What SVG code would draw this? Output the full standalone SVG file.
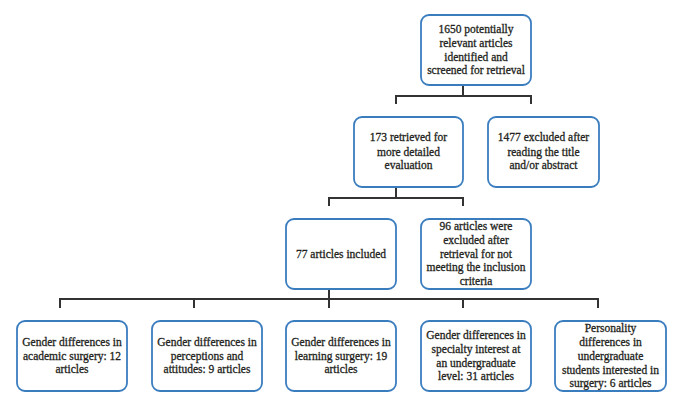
<svg xmlns="http://www.w3.org/2000/svg" width="688" height="409" viewBox="0 0 688 409">
<style>
.box{fill:#ffffff;stroke:#3a7dbf;stroke-width:1.8}
.t{font-family:"Liberation Serif","Times New Roman",serif;font-size:11.5px;font-weight:normal;fill:#231f20;stroke:#231f20;stroke-width:0.3;text-anchor:middle}
.c{fill:none;stroke:#333333;stroke-width:2;stroke-linecap:butt}
</style>
<rect width="688" height="409" fill="#ffffff"/>
<g id="connectors">
<path class="c" d="M463,85 V96 M396,104 V96 H531 V104"/>
<path class="c" d="M396,187 V198 M329,206 V198 H463 V206"/>
<path class="c" d="M329,289 V299 M60,308 V299 H598 V308 M194,299 V308 M463,299 V308 M329,299 V308"/>
</g>
<g id="n1">
<rect class="box" x="421" y="15" width="110" height="70" rx="8"/>
<text class="t"><tspan x="476" y="33">1650 potentially</tspan><tspan x="476" y="47">relevant articles</tspan><tspan x="476" y="61">identified and</tspan><tspan x="476" y="74">screened for retrieval</tspan></text>
</g>
<g id="n2">
<rect class="box" x="354" y="117" width="109" height="70" rx="8"/>
<text class="t"><tspan x="408.5" y="141">173 retrieved for</tspan><tspan x="408.5" y="155.5">more detailed</tspan><tspan x="408.5" y="168.5">evaluation</tspan></text>
</g>
<g id="n3">
<rect class="box" x="488" y="117" width="111" height="70" rx="8"/>
<text class="t"><tspan x="543.5" y="141">1477 excluded after</tspan><tspan x="543.5" y="155.5">reading the title</tspan><tspan x="543.5" y="168.5">and/or abstract</tspan></text>
</g>
<g id="n4">
<rect class="box" x="286" y="219" width="110" height="70" rx="8"/>
<text class="t" x="341" y="257.5">77 articles included</text>
</g>
<g id="n5">
<rect class="box" x="421" y="219" width="110" height="70" rx="8"/>
<text class="t"><tspan x="476" y="229.5">96 articles were</tspan><tspan x="476" y="244">excluded after</tspan><tspan x="476" y="257.5">retrieval for not</tspan><tspan x="476" y="271">meeting the inclusion</tspan><tspan x="476" y="285">criteria</tspan></text>
</g>
<g id="n6">
<rect class="box" x="17" y="321" width="110" height="70" rx="8"/>
<text class="t"><tspan x="72" y="345.5">Gender differences in</tspan><tspan x="72" y="359.5">academic surgery: 12</tspan><tspan x="72" y="372.5">articles</tspan></text>
</g>
<g id="n7">
<rect class="box" x="152" y="321" width="110" height="70" rx="8"/>
<text class="t"><tspan x="207" y="345.5">Gender differences in</tspan><tspan x="207" y="359.5">perceptions and</tspan><tspan x="207" y="372.5">attitudes: 9 articles</tspan></text>
</g>
<g id="n8">
<rect class="box" x="286" y="321" width="110" height="70" rx="8"/>
<text class="t"><tspan x="341" y="345.5">Gender differences in</tspan><tspan x="341" y="359.5">learning surgery: 19</tspan><tspan x="341" y="372.5">articles</tspan></text>
</g>
<g id="n9">
<rect class="box" x="421" y="321" width="110" height="70" rx="8"/>
<text class="t"><tspan x="476" y="339">Gender differences in</tspan><tspan x="476" y="353">specialty interest at</tspan><tspan x="476" y="366.5">an undergraduate</tspan><tspan x="476" y="379.5">level: 31 articles</tspan></text>
</g>
<g id="n10">
<rect class="box" x="555" y="321" width="111" height="70" rx="8"/>
<text class="t"><tspan x="610.5" y="332">Personality</tspan><tspan x="610.5" y="346">differences in</tspan><tspan x="610.5" y="359.5">undergraduate</tspan><tspan x="610.5" y="373.5">students interested in</tspan><tspan x="610.5" y="387">surgery: 6 articles</tspan></text>
</g>
</svg>
